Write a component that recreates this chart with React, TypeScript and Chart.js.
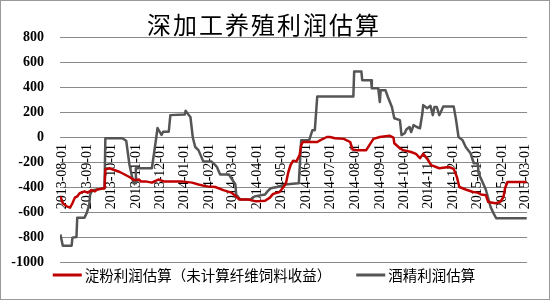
import React, { useEffect, useRef } from "react";
import { Chart, registerables } from "chart.js";

Chart.register(...registerables);

const TITLE = "深加工养殖利润估算";
const starchLabel = "淀粉利润估算（未计算纤维饲料收益）";
const alcoholLabel = "酒精利润估算";

const monthLabels = [
  "2013-08-01", "2013-09-01", "2013-10-01", "2013-11-01", "2013-12-01",
  "2014-01-01", "2014-02-01", "2014-03-01", "2014-04-01", "2014-05-01",
  "2014-06-01", "2014-07-01", "2014-08-01", "2014-09-01", "2014-10-01",
  "2014-11-01", "2014-12-01", "2015-01-01", "2015-02-01", "2015-03-01",
];

const Y_MIN = -1000;
const Y_MAX = 800;
const Y_STEP = 200;

const starchDates = [
  "2013-07-30", "2013-08-02", "2013-08-07", "2013-08-11", "2013-08-14", "2013-08-17", "2013-08-20", "2013-08-23",
  "2013-08-29", "2013-09-02", "2013-09-07", "2013-09-11", "2013-09-14", "2013-09-19", "2013-09-23", "2013-09-24",
  "2013-09-29", "2013-10-12", "2013-10-24", "2013-10-30", "2013-11-05", "2013-11-07", "2013-11-13", "2013-11-21",
  "2013-11-26", "2013-11-29", "2013-12-06", "2013-12-28", "2014-01-10", "2014-01-18", "2014-01-28", "2014-02-08",
  "2014-02-18", "2014-02-28", "2014-03-05", "2014-03-10", "2014-03-21", "2014-03-31", "2014-04-11", "2014-04-17",
  "2014-04-21", "2014-04-29", "2014-05-04", "2014-05-07", "2014-05-10", "2014-05-13", "2014-05-16", "2014-05-20",
  "2014-05-24", "2014-05-26", "2014-05-28", "2014-06-15", "2014-06-19", "2014-06-27", "2014-07-01", "2014-07-07",
  "2014-07-18", "2014-07-26", "2014-07-29", "2014-08-03", "2014-08-15", "2014-08-19", "2014-08-24", "2014-09-01",
  "2014-09-13", "2014-09-18", "2014-09-19", "2014-09-26", "2014-09-30", "2014-10-10", "2014-10-16", "2014-10-21",
  "2014-10-25", "2014-10-30", "2014-11-04", "2014-11-14", "2014-11-26", "2014-12-02", "2014-12-06", "2014-12-09",
  "2014-12-17", "2014-12-26", "2015-01-01", "2015-01-05", "2015-01-11", "2015-01-14", "2015-01-23", "2015-01-29",
  "2015-02-02", "2015-02-04", "2015-02-07", "2015-03-03",
];
const starchValues = [
  -475, -530, -555, -565, -530, -485, -475, -450,
  -435, -445, -425, -435, -420, -415, -410, -260,
  -250, -280, -320, -345, -340, -355, -355, -365,
  -350, -340, -355, -355, -365, -380, -395, -400,
  -425, -445, -470, -500, -500, -515, -510, -485,
  -455, -440, -400, -370, -280, -220, -190, -195,
  -145, -65, -40, -40, -25, 0, 0, -10,
  -15, -40, -100, -105, -105, -65, -15, 0,
  10, -5, -50, -90, -105, -120, -135, -170,
  -135, -175, -225, -250, -240, -255, -320, -400,
  -420, -440, -445, -460, -465, -520, -530, -520,
  -480, -410, -360, -360,
];

const alcoholDates = [
  "2013-07-30", "2013-08-02", "2013-08-13", "2013-08-14", "2013-08-19", "2013-08-20", "2013-08-29", "2013-09-01",
  "2013-09-04", "2013-09-05", "2013-09-08", "2013-09-17", "2013-09-20", "2013-09-23", "2013-09-24", "2013-10-15",
  "2013-10-20", "2013-10-24", "2013-10-29", "2013-10-31", "2013-11-01", "2013-11-21", "2013-11-26", "2013-11-28",
  "2013-12-03", "2013-12-05", "2013-12-12", "2013-12-14", "2014-01-01", "2014-01-02", "2014-01-06", "2014-01-08",
  "2014-01-11", "2014-01-14", "2014-01-18", "2014-01-24", "2014-02-03", "2014-02-08", "2014-02-10", "2014-02-14",
  "2014-02-25", "2014-03-05", "2014-03-06", "2014-03-11", "2014-03-24", "2014-03-29", "2014-04-11", "2014-04-14",
  "2014-04-18", "2014-04-26", "2014-05-06", "2014-05-22", "2014-05-23", "2014-05-26", "2014-06-05", "2014-06-09",
  "2014-06-12", "2014-06-15", "2014-07-30", "2014-07-31", "2014-08-09", "2014-08-10", "2014-08-21", "2014-08-22",
  "2014-08-30", "2014-09-01", "2014-09-02", "2014-09-08", "2014-09-11", "2014-09-16", "2014-09-19", "2014-09-26",
  "2014-09-28", "2014-10-02", "2014-10-04", "2014-10-08", "2014-10-10", "2014-10-13", "2014-10-17", "2014-10-21",
  "2014-10-24", "2014-10-25", "2014-10-30", "2014-11-03", "2014-11-06", "2014-11-08", "2014-11-11", "2014-11-14",
  "2014-11-16", "2014-11-19", "2014-12-02", "2014-12-05", "2014-12-08", "2014-12-13", "2014-12-17", "2014-12-23",
  "2014-12-27", "2015-01-01", "2015-01-02", "2015-01-11", "2015-01-17", "2015-01-21", "2015-01-24", "2015-03-03",
];
const alcoholValues = [
  -780, -870, -870, -805, -800, -645, -645, -605,
  -540, -460, -425, -415, -410, -410, -10, -10,
  -30, -220, -370, -370, -250, -250, -24, 72,
  16, 42, 42, 175, 180, 210, 175, 160,
  -6, -80, -105, -195, -195, -225, -240, -300,
  -300, -380, -460, -500, -500, -475, -460, -435,
  -410, -400, -380, -370, -370, -25, -25, 55,
  55, 325, 325, 525, 525, 455, 455, 390,
  390, 280, 375, 375, 320, 240, 150, 135,
  15, 30, 60, 80, 40, 95, 80, 70,
  190, 255, 230, 250, 175, 240, 240, 175,
  200, 245, 245, 135, 0, -25, -80, -130,
  -210, -210, -290, -420, -560, -615, -650, -650,
];

const ORIGIN = Date.UTC(2013, 7, 1);
function dayOf(s: string): number {
  const [y, m, d] = s.split("-").map(Number);
  return (Date.UTC(y, m - 1, d) - ORIGIN) / 86400000;
}
function toPoints(dates: string[], values: number[]) {
  return dates.map((d, i) => ({ x: dayOf(d), y: values[i] }));
}

const CJK = "'Noto Sans CJK SC', 'Noto Sans', sans-serif";
const SERIF = "'Liberation Serif', serif";

Chart.defaults.font.family = SERIF;
Chart.defaults.font.size = 14;
Chart.defaults.color = "#000";

const decorPlugin = {
  id: "decor",
  afterDraw(chart: any) {
    const ctx = chart.ctx as CanvasRenderingContext2D;
    const area = chart.chartArea;
    const cx = chart.width / 2 - 11;
    ctx.save();
    ctx.fillStyle = "#000";
    ctx.textBaseline = "middle";
    ctx.font = `24px ${CJK}`;
    (ctx as any).letterSpacing = "2px";
    ctx.textAlign = "center";
    ctx.fillText(TITLE, cx, area.top - 12);
    (ctx as any).letterSpacing = "0px";
    ctx.font = `14.5px ${CJK}`;
    ctx.textAlign = "left";
    const sample = 29;
    const gap = 3;
    const itemGap = 25;
    const items = chart.data.datasets.map((ds: any) => ({ label: ds.label, color: ds.borderColor }));
    const widths = items.map((it: any) => sample + gap + ctx.measureText(it.label).width);
    const total = widths.reduce((a: number, b: number) => a + b, 0) + itemGap * (items.length - 1);
    let x = cx - total / 2;
    const y = area.bottom + 13;
    items.forEach((it: any, i: number) => {
      ctx.strokeStyle = it.color;
      ctx.lineWidth = 3;
      ctx.beginPath();
      ctx.moveTo(x, y);
      ctx.lineTo(x + sample, y);
      ctx.stroke();
      ctx.fillText(it.label, x + sample + gap, y + 0.5);
      x += widths[i] + itemGap;
    });
    ctx.restore();
  },
};

export default function App() {
  const ref = useRef<HTMLCanvasElement | null>(null);
  useEffect(() => {
    document.body.style.margin = "0";
    if (!ref.current) return;
    const chart = new Chart(ref.current, {
      type: "line",
      data: {
        datasets: [
          {
            label: starchLabel,
            data: toPoints(starchDates, starchValues),
            borderColor: "#c00000",
            backgroundColor: "#c00000",
            borderWidth: 2.5,
            pointRadius: 0,
            tension: 0,
            borderJoinStyle: "round",
          },
          {
            label: alcoholLabel,
            data: toPoints(alcoholDates, alcoholValues),
            borderColor: "#555555",
            backgroundColor: "#555555",
            borderWidth: 2.5,
            pointRadius: 0,
            tension: 0,
            borderJoinStyle: "round",
          },
        ],
      },
      options: {
        animation: false,
        responsive: false,
        devicePixelRatio: 1,
        layout: { padding: { left: 0, right: 17, top: 36, bottom: 37 } },
        plugins: {
          legend: { display: false },
          title: { display: false },
          tooltip: { enabled: false },
        },
        scales: {
          x: {
            type: "linear",
            position: { y: 0 } as any,
            min: dayOf(monthLabels[0]) - 2.5,
            max: dayOf(monthLabels[monthLabels.length - 1]) + 2.5,
            grid: { display: false, drawTicks: false },
            border: { display: false },
            afterBuildTicks: (scale: any) => {
              scale.ticks = monthLabels.map((l) => ({ value: dayOf(l) }));
            },
            ticks: {
              autoSkip: false,
              minRotation: 90,
              maxRotation: 90,
              padding: 7,
              color: "#000",
              font: { family: SERIF, size: 14 },
              callback: (_v: any, i: number) => monthLabels[i],
            },
          },
          y: {
            min: Y_MIN,
            max: Y_MAX,
            ticks: {
              stepSize: Y_STEP,
              padding: 16,
              color: "#000",
              font: { family: SERIF, size: 14, weight: "bold" },
              callback: (v: any) => String(v),
            },
            grid: { color: "#8a8a8a", drawTicks: false, lineWidth: 1 },
            border: { display: false },
            afterFit: (s: any) => {
              s.width = 59;
            },
          },
        },
      },
      plugins: [decorPlugin],
    });
    return () => chart.destroy();
  }, []);
  return (
    <div
      style={{
        width: 550,
        height: 300,
        border: "1px solid #999",
        boxSizing: "border-box",
        background: "#fff",
      }}
    >
      <canvas ref={ref} width={548} height={298} style={{ display: "block" }} />
    </div>
  );
}
